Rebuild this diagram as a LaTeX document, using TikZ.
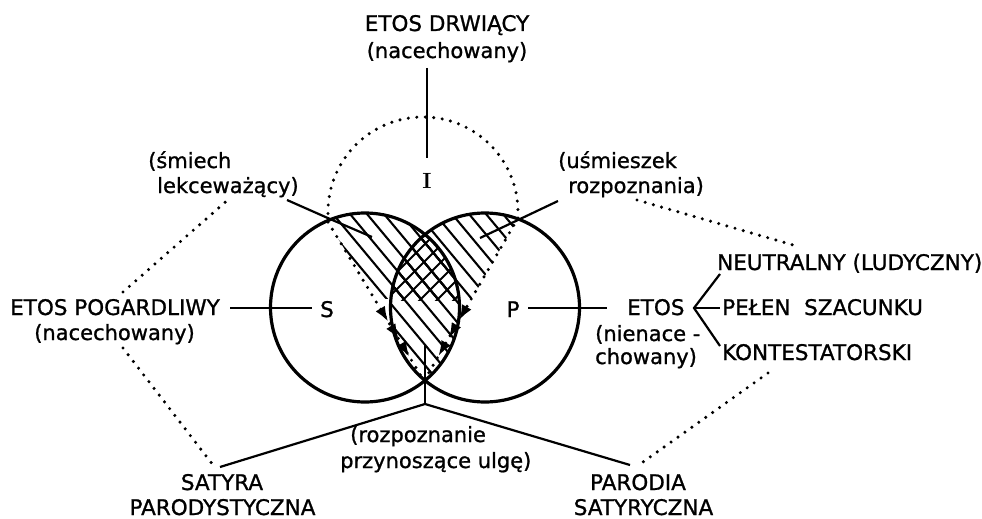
\documentclass[tikz,border=0pt]{standalone}
\usepackage{fontspec}
\setsansfont{DejaVu Sans}[FakeBold=1]
\usetikzlibrary{arrows.meta,decorations.markings}
\begin{document}
\begin{tikzpicture}[x=1pt,y=-1pt,
  caplab/.style={font=\fontsize{21.5}{26}\selectfont\sffamily, inner sep=0pt, anchor=base},
  lowlab/.style={font=\fontsize{21}{26}\selectfont\sffamily, inner sep=0pt, anchor=base},
  thinline/.style={line width=2.2pt},
  ring/.style={line width=3.2pt},
  dots/.style={line width=3.4pt, dash pattern=on 0pt off 8.5pt, line cap=round},
  hatchline/.style={line width=2.1pt},
  flow/.style={postaction={decorate, solid, line width=1pt}, decoration={markings,
     mark=at position 0.6 with {\arrow{Latex[length=9pt,width=7pt]}},
     mark=at position 0.71 with {\arrow{Latex[length=9pt,width=7pt]}},
     mark=at position 0.82 with {\arrow{Latex[length=9pt,width=7pt]}}}}
]
\useasboundingbox (0,0) rectangle (982,519);
\fill[white] (0,0) rectangle (982,519);

% hatching: left region
\begin{scope}
  \clip (328,222) -- (328,212) arc[start angle=180,end angle=0,radius=95pt] -- (518,218) -- (425,381) -- cycle;
  \clip (0,0) rectangle (982,298);
  \clip (365,307.5) circle[radius=94.5pt];
  \foreach \t in {-17,0,...,680} \draw[hatchline] (\t,100) -- (\t+250,400);
\end{scope}
% hatching: right region
\begin{scope}
  \clip (328,222) -- (328,212) arc[start angle=180,end angle=0,radius=95pt] -- (518,218) -- (425,381) -- cycle;
  \clip (0,0) rectangle (982,298);
  \clip (485,307.5) circle[radius=94.5pt];
  \foreach \t in {-17,0,...,680} \draw[hatchline] (\t,100) -- (\t+250,400);
\end{scope}
% hatching: lens
\begin{scope}
  \clip (365,307.5) circle[radius=94.5pt];
  \clip (485,307.5) circle[radius=94.5pt];
  \foreach \t in {-17,0,...,680} \draw[hatchline] (\t,100) -- (\t+250,400);
  \clip (0,0) rectangle (982,300);
  \foreach \t in {200,217,...,500} \draw[hatchline] (\t,350) -- (\t+160,190);
\end{scope}

% circles
\draw[ring] (365,307.5) circle[radius=94.5pt];
\draw[ring] (485,307.5) circle[radius=94.5pt];

% I region (dotted)
\coordinate (Il) at (328,222);
\coordinate (Ir) at (518,218);
\coordinate (bot) at (424,381);
\draw[dots] (Il) -- (328,212) arc[start angle=180,end angle=0,radius=95pt] -- (Ir);
\draw[dots,flow] (Il) -- (bot);
\draw[dots,flow] (Ir) -- (bot);

% texts
\node[caplab] (drw1) at (447,31) {ETOS DRWIĄCY};
\node[lowlab] (drw2) at (447,58) {(nacechowany)};
\node[font=\fontsize{22}{26}\selectfont\rmfamily\bfseries, inner sep=0pt, anchor=base] (I) at (427,188) {I};
\node[lowlab, anchor=base west] (sm1) at (148,168) {(śmiech};
\node[lowlab, anchor=base west] (sm2) at (157,193) {lekceważący)};
\node[lowlab, anchor=base west] (us1) at (558,168) {(uśmieszek};
\node[lowlab, anchor=base west] (us2) at (568,193) {rozpoznania)};
\node[caplab] (pog1) at (115,315) {ETOS POGARDLIWY};
\node[lowlab] (pog2) at (114.5,340) {(nacechowany)};
\node[caplab] (S) at (327,317) {S};
\node[caplab] (P) at (513,317) {P};
\node[caplab, anchor=base west] (et1) at (627,315) {ETOS};
\node[lowlab, anchor=base west] (et2) at (595,341) {(nienace -};
\node[lowlab, anchor=base west] (et3) at (595,364) {chowany)};
\node[caplab, anchor=base west] (neu) at (717,270) {NEUTRALNY (LUDYCZNY)};
\node[caplab, anchor=base west] (pel) at (722,315) {PEŁEN\ \ SZACUNKU};
\node[caplab, anchor=base west] (kon) at (722,360) {KONTESTATORSKI};
\node[lowlab, anchor=base west] (roz1) at (350,442) {(rozpoznanie};
\node[lowlab, anchor=base west] (roz2) at (340,468) {przynoszące ulgę)};
\node[caplab] (sat1) at (222,490) {SATYRA};
\node[caplab] (sat2) at (222.5,515) {PARODYSTYCZNA};
\node[caplab] (par1) at (638,490) {PARODIA};
\node[caplab] (par2) at (643.5,515) {SATYRYCZNA};

% connector end points
\coordinate (drwB) at (427,68);
\coordinate (Itop) at (427,158);
\coordinate (smA) at (287,200);
\coordinate (smB) at (330,219);
\coordinate (smC) at (372,237);
\coordinate (usA) at (558,201);
\coordinate (usB) at (480,238);
\coordinate (pogR) at (230,308);
\coordinate (Sl) at (312,308);
\coordinate (Pr) at (528,308);
\coordinate (etL) at (607,308);
\coordinate (vx) at (694,308);
\coordinate (neuB) at (720,274);
\coordinate (pelL) at (720,308);
\coordinate (konT) at (720,346);
\coordinate (lensin) at (425,345);
\coordinate (jn) at (425,404);
\coordinate (satT) at (220,467);
\coordinate (parT) at (630,465);
\coordinate (pogT) at (123,292);
\coordinate (smB2) at (230,198);
\coordinate (pogB) at (123,348);
\coordinate (satT2) at (213,465);
\coordinate (usE) at (637,200);
\coordinate (neuT) at (800,247);
\coordinate (konB) at (768,373);
\coordinate (parT2) at (643,462);

% solid connectors
\draw[thinline] (drwB) -- (Itop);
\draw[thinline] (smA) -- (smB) -- (smC);
\draw[thinline] (usA) -- (usB);
\draw[thinline] (pogR) -- (Sl);
\draw[thinline] (Pr) -- (etL);
\draw[thinline] (neuB) -- (vx) -- (konT);
\draw[thinline] (vx) -- (pelL);
\draw[thinline] (lensin) -- (jn);
\draw[thinline] (satT) -- (jn) -- (parT);

% dotted connectors
\draw[dots] (pogT) -- (smB2);
\draw[dots] (pogB) -- (satT2);
\draw[dots] (usE) -- (neuT);
\draw[dots] (konB) -- (parT2);
\end{tikzpicture}
\end{document}
